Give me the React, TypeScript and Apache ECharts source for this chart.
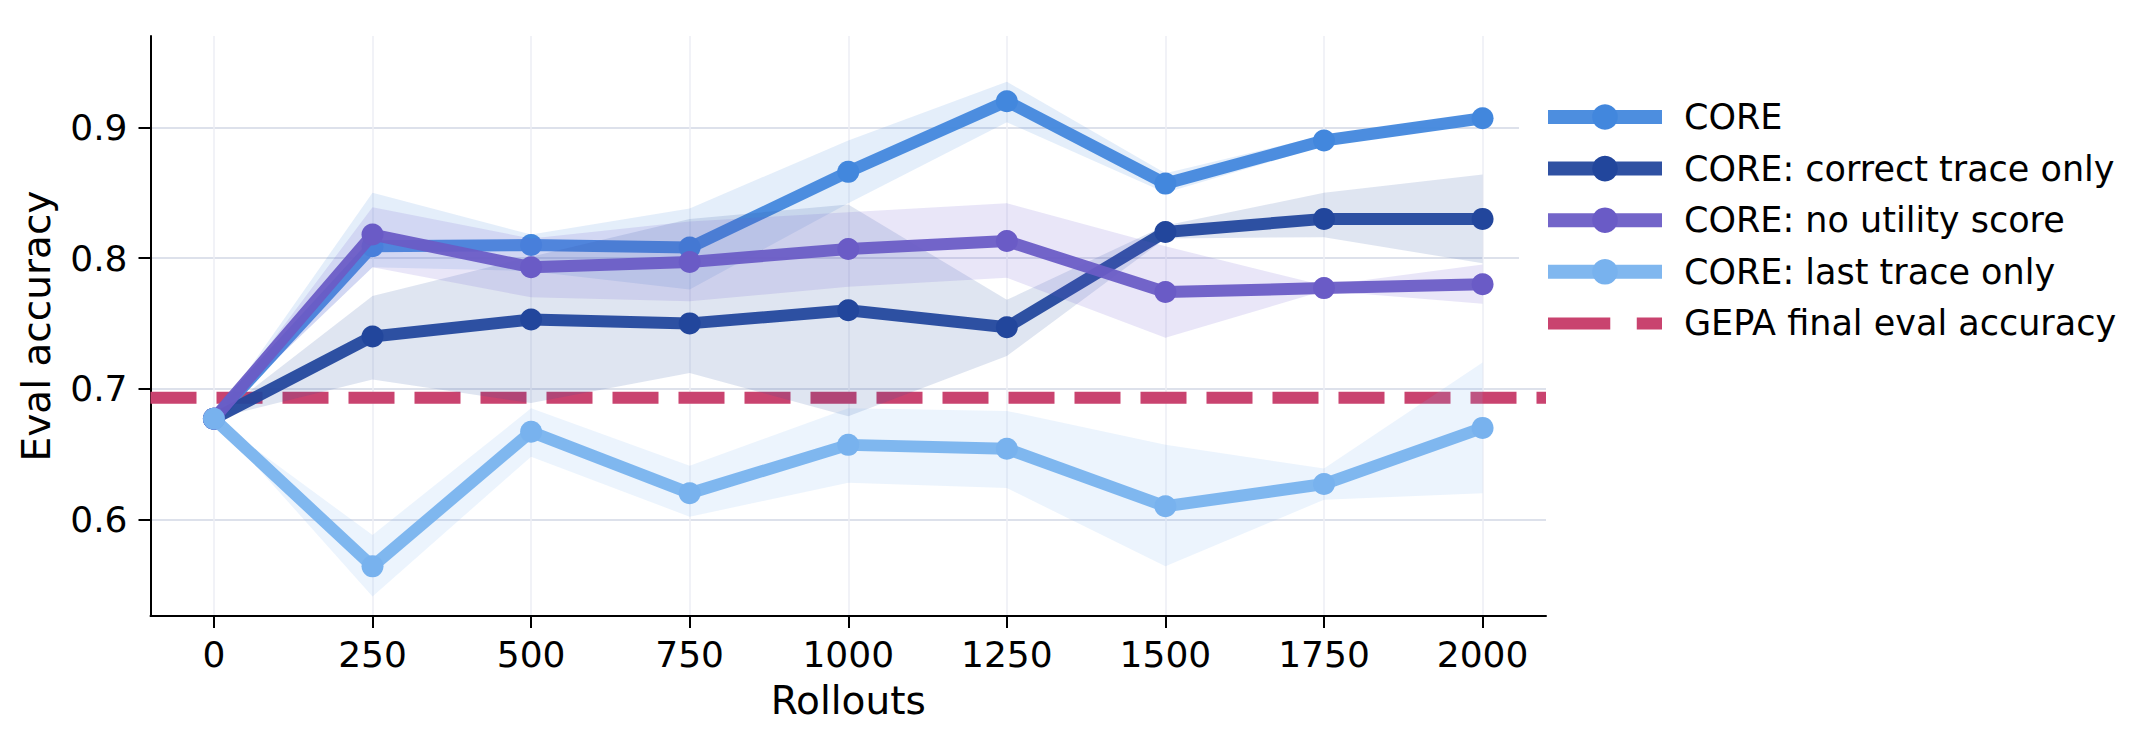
import React, { useEffect, useRef } from "react";
import * as echarts from "echarts";

// ---------- data ----------
const rollouts = [0, 250, 500, 750, 1000, 1250, 1500, 1750, 2000];
const xTicks = [0, 250, 500, 750, 1000, 1250, 1500, 1750, 2000];
const yTicks = [0.6, 0.7, 0.8, 0.9];

const seriesNames = [
  "CORE",
  "CORE: correct trace only",
  "CORE: no utility score",
  "CORE: last trace only",
];
const gepaName = "GEPA final eval accuracy";
const gepaValue = 0.693;

const coreMean = [0.677, 0.809, 0.81, 0.808, 0.866, 0.92, 0.857, 0.89, 0.907];
const coreLow = [0.677, 0.793, 0.79, 0.776, 0.842, 0.904, 0.85, 0.886, 0.904];
const coreHigh = [0.677, 0.85, 0.818, 0.838, 0.89, 0.935, 0.865, 0.894, 0.91];

const correctMean = [0.677, 0.74, 0.753, 0.75, 0.76, 0.747, 0.82, 0.83, 0.83];
const correctLow = [0.677, 0.707, 0.689, 0.712, 0.679, 0.725, 0.815, 0.816, 0.796];
const correctHigh = [0.677, 0.771, 0.801, 0.83, 0.841, 0.768, 0.825, 0.85, 0.864];

const noUtilMean = [0.677, 0.818, 0.793, 0.797, 0.807, 0.813, 0.774, 0.777, 0.78];
const noUtilLow = [0.677, 0.793, 0.77, 0.767, 0.778, 0.785, 0.739, 0.775, 0.765];
const noUtilHigh = [0.677, 0.839, 0.815, 0.828, 0.835, 0.842, 0.809, 0.779, 0.795];

const lastMean = [0.677, 0.564, 0.667, 0.62, 0.657, 0.654, 0.61, 0.627, 0.67];
const lastLow = [0.677, 0.541, 0.648, 0.602, 0.628, 0.624, 0.564, 0.615, 0.62];
const lastHigh = [0.677, 0.588, 0.685, 0.641, 0.685, 0.683, 0.657, 0.639, 0.72];

const lineColors = ["#4287dd", "#22469c", "#6a5bc6", "#78b2ee"];
const bandColors = ["#4a8cdf", "#2a4f9f", "#6a5acd", "#7db6ef"];
const gepaColor = "#c9436f";

const FONT = "DejaVu Sans";

// legend glyph for the dashed reference line (two dashes)
const gepaIcon = "path://M0,0h54.3v10.5h-54.3z M77.4,0h22v10.5h-22z";

export default function App() {
  const ref = useRef<HTMLDivElement>(null);

  useEffect(() => {
    if (!ref.current) return;
    const chart = echarts.init(ref.current, null, { renderer: "svg" });

    const means = [coreMean, correctMean, noUtilMean, lastMean];
    const lows = [coreLow, correctLow, noUtilLow, lastLow];
    const highs = [coreHigh, correctHigh, noUtilHigh, lastHigh];

    const series: any[] = [];

    series.push({
      name: gepaName,
      type: "line",
      data: [
        [-100, gepaValue],
        [2100, gepaValue],
      ],
      symbol: "none",
      z: 1,
      silent: true,
      lineStyle: { color: gepaColor, width: 12, type: [46, 20], cap: "butt" },
      itemStyle: { color: gepaColor },
    });

    means.forEach((m, k) => {
      const lo = lows[k];
      const hi = highs[k];
      series.push({
        name: seriesNames[k] + " band",
        type: "custom",
        coordinateSystem: "cartesian2d",
        data: [[rollouts[0], m[0]]],
        silent: true,
        z: 2 + 2 * k,
        renderItem: (_params: any, api: any) => {
          const pts: number[][] = [];
          for (let i = 0; i < rollouts.length; i++) pts.push(api.coord([rollouts[i], hi[i]]));
          for (let i = rollouts.length - 1; i >= 0; i--) pts.push(api.coord([rollouts[i], lo[i]]));
          return {
            type: "polygon",
            shape: { points: pts },
            style: { fill: bandColors[k], opacity: 0.15 },
          };
        },
      });
      series.push({
        name: seriesNames[k],
        type: "line",
        data: rollouts.map((x, i) => [x, m[i]]),
        z: 3 + 2 * k,
        symbol: "circle",
        symbolSize: 22,
        showSymbol: true,
        lineStyle: { color: lineColors[k], width: 12, opacity: 0.94 },
        itemStyle: { color: lineColors[k], opacity: 1 },
      });
    });

    chart.setOption({
      animation: false,
      backgroundColor: "#ffffff",
      textStyle: { fontFamily: FONT },
      grid: { left: 150.5, right: 598, top: 36, bottom: 120, containLabel: false },
      legend: {
        orient: "vertical",
        left: 1519,
        top: 81,
        padding: [18, 20, 18, 22],
        backgroundColor: "#ffffff",
        z: 20,
        itemWidth: 114,
        itemHeight: 32,
        itemGap: 15.6,
        selectedMode: false,
        lineStyle: { width: 14 },
        textStyle: {
          fontFamily: FONT,
          fontSize: 35,
          color: "#000",
          lineHeight: 36,
          padding: [0, 0, 0, 17],
        },
        data: [
          ...seriesNames.map((n, k) => ({
            name: n,
            lineStyle: { width: 14, color: lineColors[k], opacity: 0.94 },
          })),
          {
            name: gepaName,
            icon: gepaIcon,
            itemStyle: { color: gepaColor },
          },
        ],
      },
      xAxis: {
        type: "value",
        min: -100,
        max: 2100,
        name: "Rollouts",
        nameLocation: "middle",
        nameGap: 65,
        nameTextStyle: { fontFamily: FONT, fontSize: 39, color: "#000" },
        axisLine: { show: true, onZero: false, lineStyle: { color: "#000", width: 2 } },
        axisTick: {
          show: true,
          length: 12,
          lineStyle: { color: "#000", width: 2 },
          customValues: xTicks,
        },
        axisLabel: {
          fontFamily: FONT,
          fontSize: 36,
          color: "#000",
          margin: 20,
          customValues: xTicks,
          formatter: (v: number) => String(v),
        },
        splitLine: {
          show: true,
          lineStyle: { color: "#eceef4", width: 1.5 },
          customValues: xTicks,
        },
      },
      yAxis: {
        type: "value",
        min: 0.526,
        max: 0.97,
        name: "Eval accuracy",
        nameLocation: "middle",
        nameGap: 95,
        nameRotate: 90,
        nameTextStyle: { fontFamily: FONT, fontSize: 39, color: "#000" },
        axisLine: { show: true, onZero: false, lineStyle: { color: "#000", width: 2 } },
        axisTick: {
          show: true,
          length: 12,
          lineStyle: { color: "#000", width: 2 },
          customValues: yTicks,
        },
        axisLabel: {
          fontFamily: FONT,
          fontSize: 36,
          color: "#000",
          margin: 23,
          customValues: yTicks,
          formatter: (v: number) => v.toFixed(1),
        },
        splitLine: {
          show: true,
          lineStyle: { color: "#dde1eb", width: 2 },
          customValues: yTicks,
        },
      },
      series,
    });

    return () => chart.dispose();
  }, []);

  return (
    <div
      ref={ref}
      style={{ position: "fixed", left: 0, top: 0, width: 2144, height: 736, background: "#fff" }}
    />
  );
}
